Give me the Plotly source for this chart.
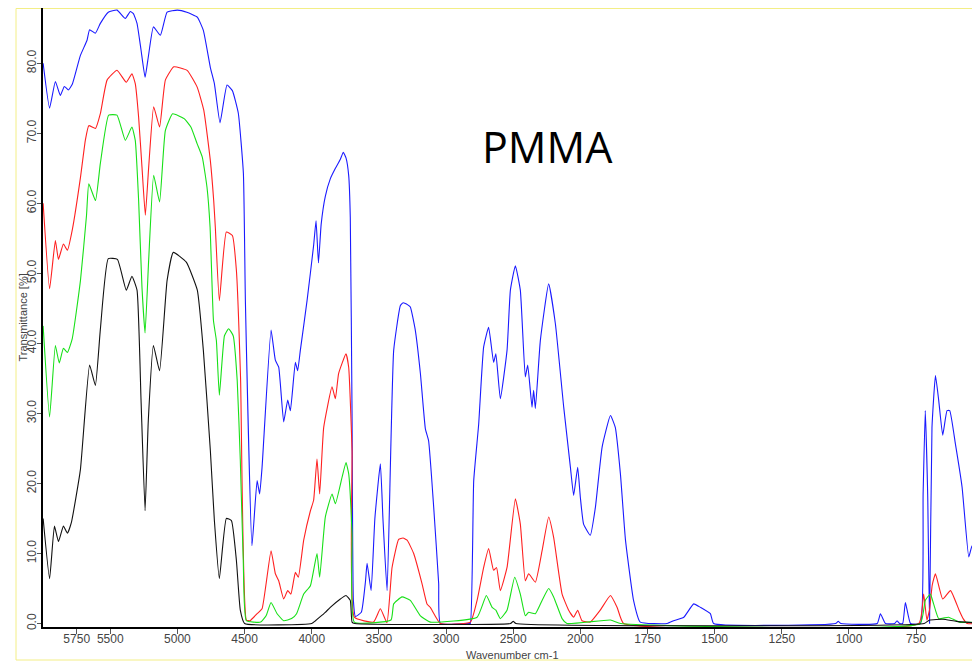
import plotly.graph_objects as go

# ---------------- data (wavenumber cm-1, transmittance %) ----------------
blue_wn = [6000, 5952, 5909, 5872, 5842, 5812, 5783, 5723, 5673, 5654, 5611, 5574, 5515, 5450, 5388, 5351,
           5328, 5301, 5271, 5241, 5217, 5179, 5127, 5077, 5000, 4930, 4852, 4807, 4755, 4725, 4683, 4631,
           4591, 4547, 4509, 4494, 4445, 4407, 4388, 4370, 4303, 4271, 4246, 4209, 4179, 4159, 4122, 4105,
           4085, 4035, 3986, 3968, 3950, 3930, 3899, 3862, 3824, 3787, 3765, 3745, 3725, 3713, 3700, 3690,
           3675, 3631, 3600, 3588, 3558, 3530, 3489, 3470, 3439, 3390, 3340, 3320, 3303, 3285, 3266, 3230,
           3191, 3154, 3130, 3092, 3055, 3042, 2832, 2819, 2794, 2757, 2720, 2683, 2646, 2629, 2596, 2546,
           2521, 2484, 2447, 2410, 2392, 2360, 2348, 2335, 2298, 2236, 2186, 2124, 2074, 2050, 2020, 2000,
           1988, 1963, 1944, 1919, 1888, 1870, 1851, 1832, 1802, 1777, 1677, 1653, 1615, 1578, 1553, 1516,
           1504, 1050, 1040, 1030, 895, 883, 864, 830, 821, 812, 800, 790, 771, 734, 724, 716, 707, 700,
           691, 678, 666, 651, 635, 625, 604, 579, 554, 542, 523, 511, 500]
blue_t = [80.0, 73.6, 77.4, 75.4, 76.7, 76.2, 77.0, 81.1, 83.3, 84.8, 84.3, 85.7, 87.3, 87.6, 86.4, 87.4,
          87.1, 85.7, 81.9, 78.0, 80.9, 85.2, 84.0, 87.3, 87.6, 87.3, 86.6, 84.7, 79.4, 77.1, 71.5, 76.9,
          76.1, 72.9, 64.3, 46.0, 11.1, 20.4, 18.5, 22.3, 41.9, 37.6, 36.6, 28.8, 31.9, 30.4, 37.3, 36.1,
          39.0, 46.1, 54.0, 57.5, 51.5, 57.0, 61.0, 63.5, 65.0, 66.3, 67.3, 66.5, 64.0, 58.0, 30.0, 3.3,
          1.0, 1.6, 6.0, 8.6, 4.7, 15.0, 22.8, 15.0, 4.7, 39.0, 45.4, 45.8, 45.7, 45.5, 45.2, 42.0,
          35.7, 27.8, 26.1, 16.6, 5.7, 0.0, 0.0, 0.0, 20.4, 28.5, 39.5, 42.3, 37.3, 38.5, 32.1, 39.0,
          47.6, 51.1, 47.6, 35.2, 36.9, 30.9, 33.3, 30.7, 40.4, 48.5, 42.8, 30.9, 22.3, 18.3, 22.3, 18.0,
          14.2, 12.6, 16.6, 25.2, 29.7, 28.0, 21.4, 11.9, 3.3, 0.2, 0.0, 0.4, 0.9, 2.8, 2.3, 1.4,
          0.0, 0.0, 0.3, 0.0, 0.0, 1.4, 0.0, 0.0, 0.4, 0.0, 0.0, 3.0, 0.0, 0.0, 18.5, 30.4, 18.5, 0.0,
          28.0, 35.4, 31.9, 26.9, 30.4, 30.4, 25.7, 19.5, 9.5, 11.1, 6.6, 1.4, 0.5]

red_wn = [6000, 5952, 5909, 5886, 5849, 5819, 5783, 5722, 5685, 5660, 5610, 5574, 5524, 5450, 5381, 5339,
          5314, 5289, 5264, 5239, 5214, 5177, 5133, 5090, 5027, 4928, 4853, 4804, 4755, 4730, 4718, 4688,
          4636, 4591, 4561, 4530, 4487, 4460, 4407, 4370, 4303, 4271, 4246, 4209, 4179, 4155, 4122, 4100,
          4060, 4010, 3986, 3961, 3941, 3911, 3849, 3824, 3800, 3745, 3725, 3700, 3683, 3540, 3489, 3440,
          3402, 3353, 3320, 3290, 3241, 3179, 3142, 3117, 3042, 2819, 2769, 2720, 2683, 2646, 2624, 2596,
          2546, 2484, 2447, 2410, 2385, 2335, 2285, 2236, 2199, 2136, 2087, 2050, 2020, 1994, 1963, 1926,
          1888, 1863, 1839, 740, 722, 710, 700, 690, 678, 651, 622, 590, 575, 560, 500]
red_t = [60.0, 47.8, 54.7, 52.0, 54.2, 53.3, 56.2, 63.7, 69.1, 71.1, 70.7, 72.8, 77.6, 79.0, 77.3, 78.5,
         77.1, 72.3, 65.2, 58.3, 65.2, 73.8, 70.9, 77.6, 79.5, 79.0, 76.6, 73.3, 66.1, 60.4, 56.6, 46.1,
         55.9, 55.4, 50.4, 35.0, 0.5, 0.4, 1.4, 2.1, 10.4, 7.1, 6.1, 3.5, 4.7, 4.2, 7.3, 6.6,
         11.9, 16.1, 17.6, 23.5, 18.5, 28.0, 33.8, 32.1, 35.7, 38.5, 36.6, 24.7, 0.9, 0.2, 2.1, 0.1,
         8.0, 12.0, 12.2, 11.9, 10.0, 5.7, 2.8, 2.3, 0.0, 0.2, 3.3, 8.0, 10.7, 7.6, 8.0, 4.7,
         8.0, 17.8, 14.2, 6.1, 7.1, 5.9, 10.4, 15.2, 12.3, 4.2, 1.9, 0.9, 1.9, 0.4, 0.2, 1.9,
         4.0, 2.3, 0.0, 0.0, 4.2, 0.5, 2.0, 5.5, 7.1, 3.5, 4.7, 1.9, 0.7, 0.0, 0.0]

green_wn = [6000, 5952, 5909, 5880, 5849, 5819, 5783, 5722, 5677, 5660, 5610, 5574, 5512, 5450, 5388, 5339,
            5314, 5289, 5264, 5241, 5214, 5177, 5133, 5090, 5036, 4950, 4900, 4853, 4815, 4780, 4757, 4732,
            4710, 4688, 4650, 4619, 4585, 4555, 4532, 4510, 4487, 4380, 4340, 4303, 4258, 4209, 4150, 4113,
            4060, 4010, 3961, 3941, 3899, 3849, 3824, 3774, 3745, 3725, 3700, 3683, 3410, 3390, 3328, 3266,
            3191, 3117, 2769, 2700, 2657, 2629, 2596, 2546, 2489, 2447, 2410, 2385, 2335, 2285, 2236, 2199,
            2136, 2100, 1888, 1850, 735, 716, 697, 685, 666, 629, 590, 500]
green_t = [42.5, 29.5, 39.7, 37.2, 39.3, 38.7, 40.7, 49.0, 58.3, 62.8, 60.4, 65.7, 72.6, 72.6, 69.0, 70.9,
           69.0, 60.4, 48.0, 41.5, 52.0, 64.0, 60.2, 70.4, 72.8, 72.1, 70.9, 68.5, 66.6, 62.3, 56.6, 43.3,
           40.4, 32.6, 41.1, 42.1, 41.1, 34.7, 23.3, 9.0, 0.4, 0.2, 1.1, 3.0, 1.4, 0.4, 0.7, 1.4,
           4.2, 5.4, 10.0, 6.6, 15.2, 18.5, 17.1, 20.9, 23.0, 21.4, 12.8, 0.2, 0.5, 2.8, 3.8, 3.3,
           1.1, 0.2, 0.9, 4.0, 2.3, 1.9, 0.7, 1.9, 6.6, 4.2, 1.1, 1.6, 1.4, 3.3, 5.0, 3.8,
           0.7, 0.0, 0.5, 0.0, 0.0, 3.3, 4.2, 2.8, 0.7, 0.9, 0.2, 0.2]

black_wn = [6000, 5952, 5916, 5886, 5849, 5819, 5790, 5723, 5654, 5611, 5574, 5515, 5447, 5381, 5339, 5301,
            5271, 5241, 5217, 5179, 5133, 5077, 5031, 4934, 4852, 4807, 4755, 4725, 4688, 4636, 4598, 4561,
            4532, 4500, 4000, 3972, 3941, 3899, 3862, 3787, 3745, 3713, 3700, 3680, 2520, 2500, 2480, 720,
            700, 650, 600, 500]
black_t = [15.0, 6.4, 13.9, 11.7, 13.9, 12.9, 14.4, 21.9, 36.9, 34.0, 42.0, 52.1, 52.0, 47.6, 49.6, 47.6,
           31.9, 16.1, 29.0, 39.7, 36.1, 49.0, 53.0, 51.6, 47.6, 39.0, 24.7, 14.7, 6.4, 15.0, 14.7, 9.0,
           1.9, 0.0, 0.0, 0.4, 0.9, 1.6, 2.3, 3.5, 4.0, 3.3, 0.2, 0.0, 0.0, 0.3, 0.0, 0.0,
           0.5, 0.6, 0.3, 0.0]

x_ticks = [5750, 5500, 5000, 4500, 4000, 3500, 3000, 2500, 2000, 1750, 1500, 1250, 1000, 750, 500]
y_ticks = [0, 10, 20, 30, 40, 50, 60, 70, 80]


# OPUS-style split wavenumber scale: below 2000 cm-1 the scale is stretched by 2
def axis_u(w):
    return w if w >= 2000 else 2 * w - 2000


fig = go.Figure()
for wn, tr, col in [(blue_wn, blue_t, "#1a1aff"), (red_wn, red_t, "#ff2020"),
                    (green_wn, green_t, "#18e018"), (black_wn, black_t, "#111111")]:
    fig.add_trace(go.Scatter(x=[axis_u(w) for w in wn], y=tr, mode="lines",
                             line=dict(color=col, width=1.1, shape="spline", smoothing=0.4),
                             showlegend=False, hoverinfo="skip"))

# the page body has an 8px margin, so the figure starts at window pixel (8, 8);
# the plot continues a little past the right edge of the window (the view is cropped there)
OFF = 8
W, H = 990 - OFF, 662 - OFF
L, R, T, B = 43 - OFF, 0, 8 - OFF, 662 - 627
pw, ph = W - L - R, H - T - B


def px(x):  # window pixel x -> paper
    return (x - OFF - L) / pw


def py(y):  # window pixel y -> paper
    return (H - B - (y - OFF)) / ph


fig.update_layout(
    width=W, height=H,
    margin=dict(l=L, r=R, t=T, b=B, autoexpand=False),
    paper_bgcolor="white", plot_bgcolor="white",
    font=dict(family="Liberation Sans, Arial, sans-serif", size=11, color="#444444"),
    xaxis=dict(range=[6001, -1050], tickvals=[axis_u(t) for t in x_ticks],
               ticktext=[str(t) for t in x_ticks], showgrid=False, zeroline=False,
               showline=True, linecolor="black", linewidth=2, ticks="outside",
               ticklen=5, tickcolor="#555555", tickfont=dict(size=12, color="#444444"),
               ticklabelstandoff=-5, ticklabeloverflow="allow", automargin=False),
    yaxis=dict(range=[-0.5, 87.9], tickvals=y_ticks, ticktext=["%.1f" % v for v in y_ticks],
               tickangle=-90, showgrid=False, zeroline=False, showline=True,
               linecolor="black", linewidth=2, ticks="outside", ticklen=4,
               tickcolor="#555555", tickfont=dict(size=12, color="#444444"),
               ticklabelstandoff=-4, automargin=False),
    shapes=[dict(type="rect", xref="paper", yref="paper", x0=px(16), x1=px(989),
                 y0=py(660), y1=py(8.5), line=dict(color="#f3ee86", width=1),
                 fillcolor="rgba(0,0,0,0)", layer="below")],
    annotations=[
        dict(text="Transmittance [%]", xref="paper", yref="paper", x=px(22), y=0.5,
             textangle=-90, showarrow=False, font=dict(size=11, color="#444444"),
             xanchor="center", yanchor="middle"),
        dict(text="Wavenumber cm-1", xref="paper", yref="paper", x=px(512), y=py(655),
             showarrow=False, font=dict(size=11, color="#444444"),
             xanchor="center", yanchor="middle"),
        dict(text="PMMA", xref="paper", yref="paper", x=px(547), y=py(146),
             showarrow=False, font=dict(family="Open Sans, sans-serif", size=43, color="black"),
             xanchor="center", yanchor="middle"),
    ],
)

fig.write_html("out.html")
